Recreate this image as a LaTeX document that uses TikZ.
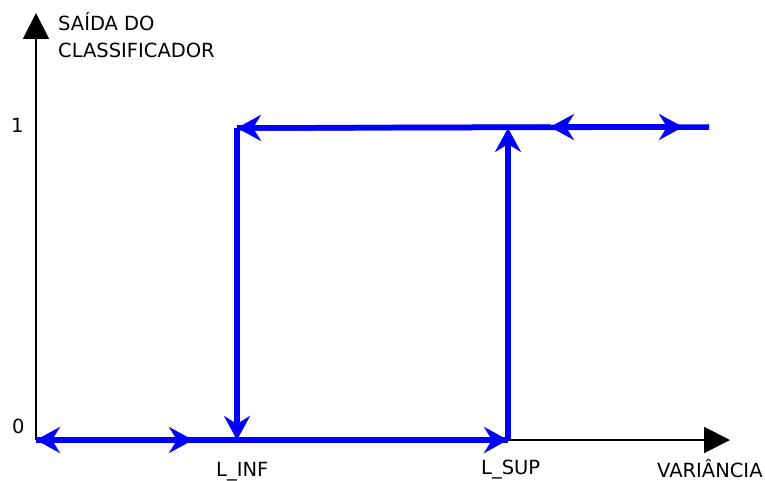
\documentclass[tikz,border=0pt]{standalone}
\usepackage{fontspec}
\setmainfont{DejaVu Sans}
\usetikzlibrary{arrows.meta}
\usetikzlibrary{positioning}

\tikzset{
  axis/.style={line width=2pt,-{Triangle[length=26pt,width=26pt]}},
  hyst/.style={line width=5.5pt,draw={rgb,255:red,0;green,0;blue,255}},
  tip/.style={-{Stealth[length=24pt,width=26pt,inset=8pt]}},
  dtip/.style={{Stealth[length=24pt,width=26pt,inset=8pt]}-{Stealth[length=24pt,width=26pt,inset=8pt]}},
  lbl/.style={anchor=base west,inner sep=0pt,font=\fontsize{19.5}{23}\selectfont}
}

\begin{document}
\begin{tikzpicture}[line cap=butt,line join=miter,x=1pt,y=-1pt]
        \useasboundingbox (0,0) rectangle (765,481);
        % pontos
        \coordinate (O) at (36,440);
        \coordinate (ytop) at (36,13);
        \coordinate (xend) at (730,440);
        \coordinate (bmid) at (193,440);
        \coordinate (inf0) at (237,440);
        \coordinate (inf1) at (237,128);
        \coordinate (sup0) at (508,440);
        \coordinate (sup1) at (508,128);
        \coordinate (tl) at (550,127);
        \coordinate (tr) at (683,127);
        \coordinate (tend) at (709,127);
        % eixos
        \draw[axis] (O) -- (ytop);
        \draw[axis] (sup0) -- (xend);
        % histerese
        \draw[hyst] (O) -- (sup0);
        \draw[hyst] (inf1) -- (tend);
        \draw[hyst,dtip] (O) -- (bmid);
        \draw[hyst,tip] (bmid) -- (sup0);
        \draw[hyst,tip] (sup0) -- (sup1);
        \draw[hyst,tip] (tl) -- (inf1);
        \draw[hyst,tip] (inf1) -- (inf0);
        \draw[hyst,dtip] (tl) -- (tr);
        % textos
        \node[lbl] (ylab1) at (58,31) {SAÍDA DO};
        \node[lbl] (ylab2) at (58,58) {CLASSIFICADOR};
        \node[lbl] (um) at (11,133) {1};
        \node[lbl] (zero) at (12,433) {0};
        \node[lbl] (linf) at (216,476) {L\_INF};
        \node[lbl] (lsup) at (481,474) {L\_SUP};
        \node[lbl] (xlab) at (657,477) {VARIÂNCIA};
      \end{tikzpicture}
\end{document}
